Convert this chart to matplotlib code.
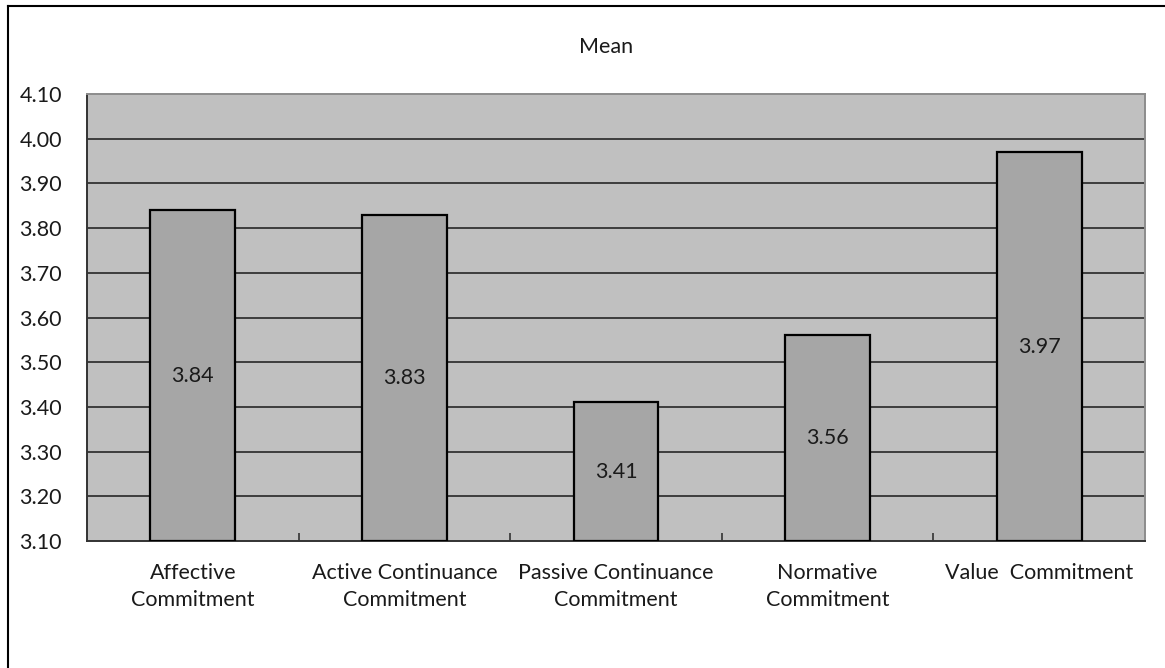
import numpy as np
import matplotlib.pyplot as plt
from matplotlib.lines import Line2D

categories = ["Affective\nCommitment", "Active Continuance\nCommitment",
              "Passive Continuance\nCommitment", "Normative\nCommitment",
              "Value  Commitment"]
means = [3.84, 3.83, 3.41, 3.56, 3.97]
yticks = [3.10, 3.20, 3.30, 3.40, 3.50, 3.60, 3.70, 3.80, 3.90, 4.00, 4.10]

plt.rcParams['font.family'] = ['Lato', 'DejaVu Sans']
txt = '#1a1a1a'
fs = 15.5

fig = plt.figure(figsize=(11.65, 6.68), dpi=100)
ax = fig.add_axes([87 / 1165, 1 - 541 / 668, (1145 - 87) / 1165, (541 - 94) / 668])
ax.set_facecolor('#c0c0c0')

x = np.arange(len(means))
base = yticks[0]
ax.bar(x, [m - base for m in means], bottom=base, width=0.4,
       color='#a6a6a6', edgecolor='black', linewidth=1.6, zorder=3)

for xi, m in zip(x, means):
    ax.text(xi, (base + m) / 2, f"{m:.2f}", ha='center', va='center',
            fontsize=fs, color=txt, zorder=4)

# horizontal gridlines
for yv in yticks[1:-1]:
    ax.axhline(yv, color='#1a1a1a', linewidth=1.1, zorder=1)

ax.set_xlim(-0.5, len(means) - 0.5)
ax.set_ylim(yticks[0], yticks[-1])
ax.set_yticks(yticks)
ax.set_yticklabels([f"{v:.2f}" for v in yticks], fontsize=fs, color=txt)
ax.set_xticks(x)
ax.set_xticklabels(categories, fontsize=fs, color=txt, linespacing=1.4)
ax.tick_params(axis='x', which='major', length=0, pad=16)
ax.tick_params(axis='y', length=0, pad=18)
ax.set_xticks(np.arange(0.5, len(means) - 1, 1.0), minor=True)
ax.tick_params(axis='x', which='minor', direction='in', length=6, width=1.2,
               color='#333333')

for side in ['left', 'bottom']:
    ax.spines[side].set_color('#333333')
    ax.spines[side].set_linewidth(1.4)
for side in ['top', 'right']:
    ax.spines[side].set_color('#8c8c8c')
    ax.spines[side].set_linewidth(1.4)

fig.text(606 / 1165, 1 - 47 / 668, "Mean", ha='center', va='center',
         fontsize=fs, color=txt)

# outer chart frame (left and top edges)
fig.add_artist(Line2D([8 / 1165, 8 / 1165], [0, 1 - 6 / 668],
                      transform=fig.transFigure, color='black', linewidth=1.5))
fig.add_artist(Line2D([8 / 1165, 1], [1 - 6 / 668, 1 - 6 / 668],
                      transform=fig.transFigure, color='black', linewidth=1.5))

fig.savefig('out.png', dpi=100)
